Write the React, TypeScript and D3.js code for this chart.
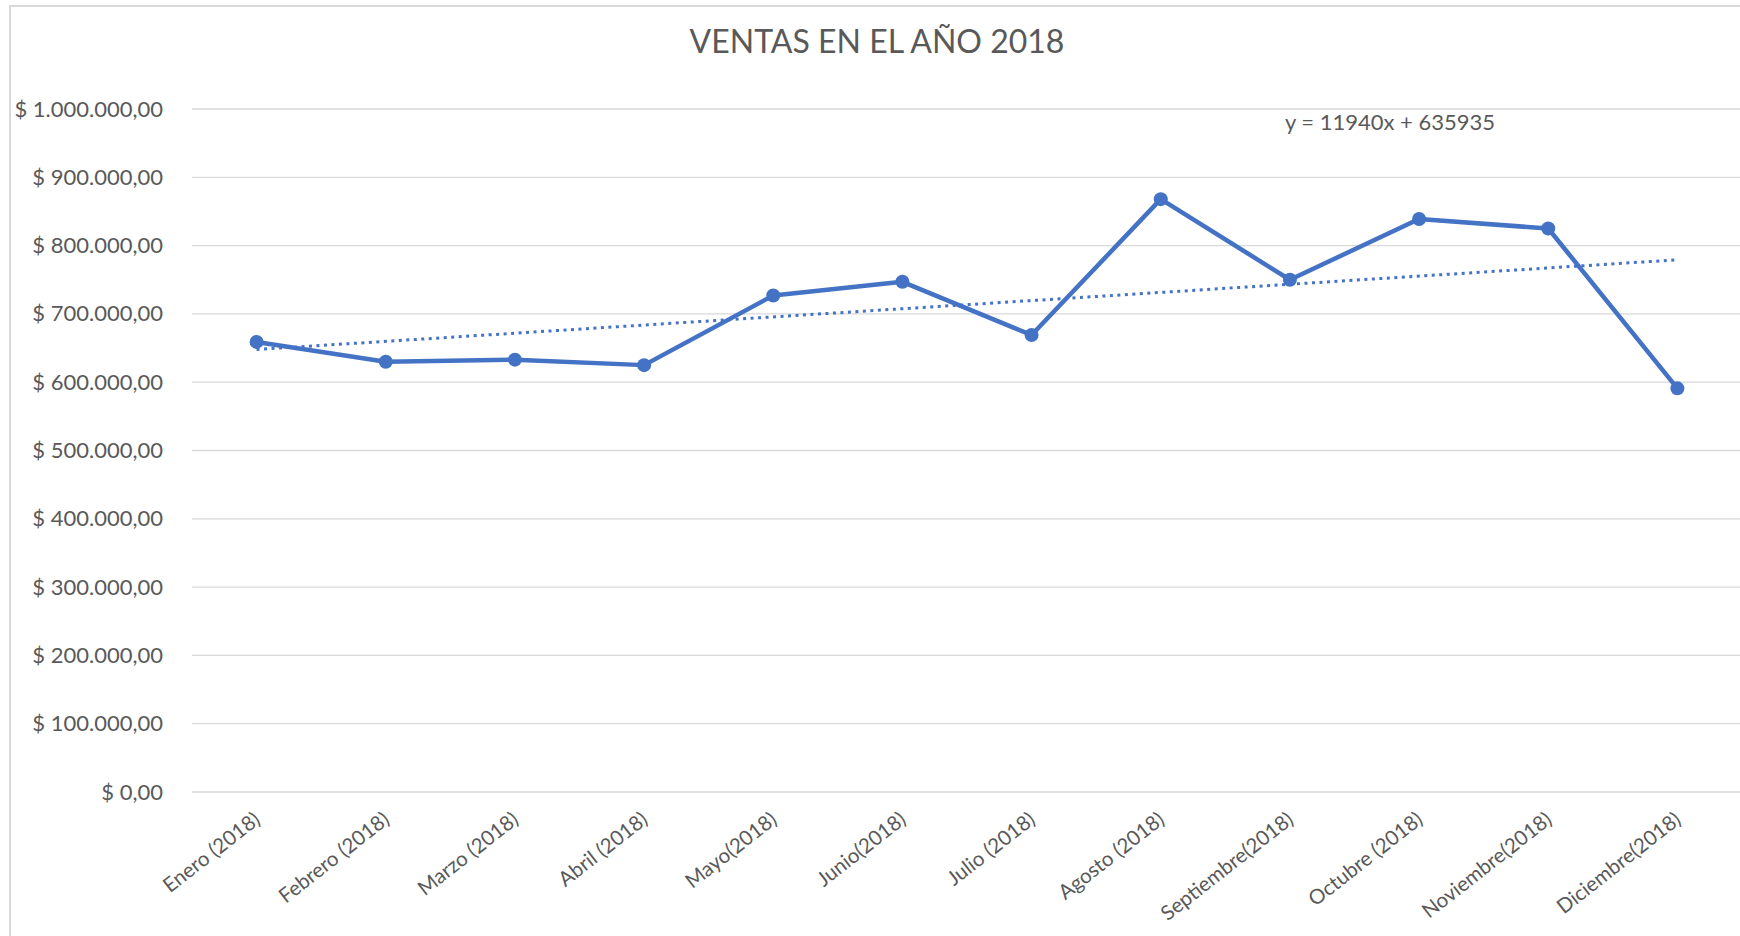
import React from 'react';
import * as d3 from 'd3';

// chart data
const months = [
  'Enero (2018)', 'Febrero (2018)', 'Marzo (2018)', 'Abril (2018)',
  'Mayo(2018)', 'Junio(2018)', 'Julio (2018)', 'Agosto (2018)',
  'Septiembre(2018)', 'Octubre (2018)', 'Noviembre(2018)', 'Diciembre(2018)',
];
const sales = [659000, 630000, 633000, 625000, 727000, 747000, 669000, 868000, 750000, 839000, 825000, 591000];
const yTicks = [0, 100000, 200000, 300000, 400000, 500000, 600000, 700000, 800000, 900000, 1000000];
// linear trendline as shown in the chart label
const trendSlope = 11940;
const trendIntercept = 635935;
const title = 'VENTAS EN EL AÑO 2018';

const W = 1740;
const H = 936;
const blue = '#4472C4';
const grey = '#595959';
const font = 'Lato, "Open Sans", sans-serif';

// format like "$ 1.000.000,00"
const money = (v: number) => {
  const intPart = Math.round(v).toString().replace(/\B(?=(\d{3})+(?!\d))/g, '.');
  return `$ ${intPart},00`;
};

export default function App() {
  const plot = { left: 192, right: 1742, top: 109, bottom: 792 };

  const x = d3.scaleBand<string>()
    .domain(months)
    .range([plot.left, plot.right]);
  const cx = (m: string) => (x(m) ?? 0) + x.bandwidth() / 2;

  const y = d3.scaleLinear()
    .domain([0, 1000000])
    .range([plot.bottom, plot.top]);

  const line = d3.line<number>()
    .x((_, i) => cx(months[i]))
    .y((d) => y(d));

  // trendline from first to last category (x = 1..12)
  const trendPts = [1, months.length].map((n) => ({
    px: cx(months[n - 1]),
    py: y(trendSlope * n + trendIntercept),
  }));

  return (
    <svg width={W} height={H} style={{ position: 'absolute', left: 0, top: 0, background: '#fff' }}>
      {/* chart frame */}
      <path d={`M10,${H} V6 H${W}`} fill="none" stroke="#d9d9d9" strokeWidth={2} />

      <text x={877} y={45} textAnchor="middle" dominantBaseline="middle"
        fontFamily={font} fontSize={32} fill={grey}>{title}</text>

      {/* gridlines + y labels */}
      {yTicks.map((t) => (
        <g key={t}>
          <line x1={plot.left} x2={W} y1={y(t)} y2={y(t)} stroke="#d9d9d9" strokeWidth={1.3} />
          <text x={163} y={y(t) + 2} textAnchor="end" dominantBaseline="middle"
            fontFamily={font} fontSize={22} fill={grey}>{money(t)}</text>
        </g>
      ))}

      {/* x labels */}
      {months.map((m) => (
        <text key={m} transform={`translate(${cx(m) + 5},${plot.bottom + 30}) rotate(-38)`}
          textAnchor="end" fontFamily={font} fontSize={20.5} fill={grey}>{m}</text>
      ))}

      {/* trendline */}
      <line x1={trendPts[0].px} y1={trendPts[0].py} x2={trendPts[1].px} y2={trendPts[1].py}
        stroke={blue} strokeWidth={3} strokeDasharray="3 4.5" />

      {/* series */}
      <path d={line(sales) ?? ''} fill="none" stroke={blue} strokeWidth={4.5} strokeLinejoin="round" />
      {sales.map((v, i) => (
        <circle key={months[i]} cx={cx(months[i])} cy={y(v)} r={7} fill={blue} />
      ))}

      <text x={1390} y={124} textAnchor="middle" dominantBaseline="middle"
        fontFamily={font} fontSize={22} fill={grey}>{`y = ${trendSlope}x + ${trendIntercept}`}</text>
    </svg>
  );
}
